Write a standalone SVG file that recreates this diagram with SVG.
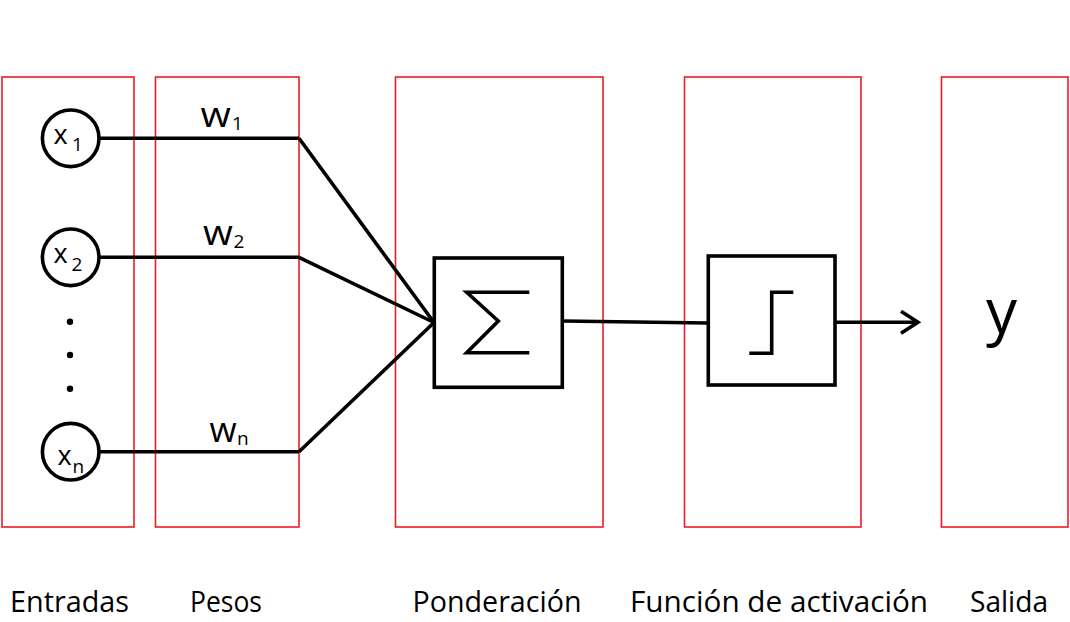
<svg xmlns="http://www.w3.org/2000/svg" width="1070" height="622" viewBox="0 0 1070 622">
<defs>
<style>
.col{fill:none;stroke:#ed1c24;stroke-width:1.6}
.blk{fill:none;stroke:#000;stroke-width:3.6}
.edge{fill:none;stroke:#000;stroke-width:3.6;stroke-linecap:butt}
.t{font-family:"Open Sans","Liberation Sans",sans-serif;fill:#000}
.lab{font-size:29px}
.var{font-size:27px}
.sub{font-size:19px}
.wv{font-size:35px}
</style>
<marker id="chev" markerUnits="userSpaceOnUse" markerWidth="24" markerHeight="30" refX="18" refY="12" orient="auto" viewBox="0 0 24 30">
<path d="M1,1 L18,12 L1,23" fill="none" stroke="#000" stroke-width="3.6"/>
</marker>
</defs>
<rect width="1070" height="622" fill="#fff"/>

<g id="col-entradas"><rect class="col" x="2" y="77" width="132" height="450"/><text class="t lab" x="69.5" y="611.5" text-anchor="middle" textLength="119" lengthAdjust="spacingAndGlyphs">Entradas</text></g>
<g id="col-pesos"><rect class="col" x="155.5" y="77" width="143.5" height="450"/><text class="t lab" x="226" y="611.5" text-anchor="middle" textLength="72" lengthAdjust="spacingAndGlyphs">Pesos</text></g>
<g id="col-ponderacion"><rect class="col" x="395.5" y="77" width="207.5" height="450"/><text class="t lab" x="497" y="611.5" text-anchor="middle" textLength="169" lengthAdjust="spacingAndGlyphs">Ponderación</text></g>
<g id="col-activacion"><rect class="col" x="684.5" y="77" width="176.5" height="450"/><text class="t lab" x="779" y="611.5" text-anchor="middle" textLength="298" lengthAdjust="spacingAndGlyphs">Función de activación</text></g>
<g id="col-salida"><rect class="col" x="941.5" y="77" width="126.5" height="450"/><text class="t lab" x="1009" y="611.5" text-anchor="middle" textLength="78" lengthAdjust="spacingAndGlyphs">Salida</text></g>

<g id="connectors">
<line class="edge" x1="99" y1="138.3" x2="299" y2="138.3"/>
<line class="edge" x1="99" y1="257.3" x2="299" y2="257.3"/>
<line class="edge" x1="99" y1="451.7" x2="299" y2="451.7"/>
<polyline class="edge" points="299,138.3 434,322.5"/>
<polyline class="edge" points="299,257.3 434,322.5"/>
<polyline class="edge" points="299,451.7 434,322.5"/>
<line class="edge" x1="563" y1="321" x2="708" y2="323"/>
<line class="edge" x1="836" y1="322.3" x2="918" y2="322.3" marker-end="url(#chev)"/>
</g>

<g id="x1"><circle class="blk" cx="70.7" cy="138.3" r="28.3"/><text class="t var" x="53.5" y="144">x</text><text class="t sub" x="72" y="151">1</text></g>
<g id="x2"><circle class="blk" cx="70.7" cy="257.3" r="28.3"/><text class="t var" x="53.5" y="263">x</text><text class="t sub" x="71.5" y="271">2</text></g>
<g id="dots"><circle cx="70" cy="321.7" r="3.2"/><circle cx="70" cy="355" r="3.2"/><circle cx="70" cy="388.7" r="3.2"/></g>
<g id="xn"><circle class="blk" cx="70.7" cy="451.7" r="28.3"/><text class="t var" x="57.5" y="465">x</text><text class="t sub" x="72.5" y="472.5">n</text></g>

<g id="w1"><text class="t wv" transform="translate(200.5,127) scale(1.12,1)">w</text><text class="t sub" x="232" y="130">1</text></g>
<g id="w2"><text class="t wv" transform="translate(203,245) scale(1.1,1)">w</text><text class="t sub" x="233.5" y="248">2</text></g>
<g id="wn"><text class="t wv" transform="translate(209.5,441.5)">w</text><text class="t sub" x="237" y="444.5">n</text></g>

<g id="sum"><rect class="blk" x="434.3" y="258" width="128" height="129.3"/><polyline class="blk" points="529.3,292.3 466.7,292.3 498.3,321 466.7,352.7 529.3,352.7"/></g>
<g id="step"><rect class="blk" x="708.3" y="256" width="126.7" height="129"/><polyline class="blk" points="749.3,353.3 771.7,353.3 771.7,292.3 793.3,292.3"/></g>
<g id="y"><text class="t" x="1001.5" y="333" text-anchor="middle" font-size="62">y</text></g>
</svg>
